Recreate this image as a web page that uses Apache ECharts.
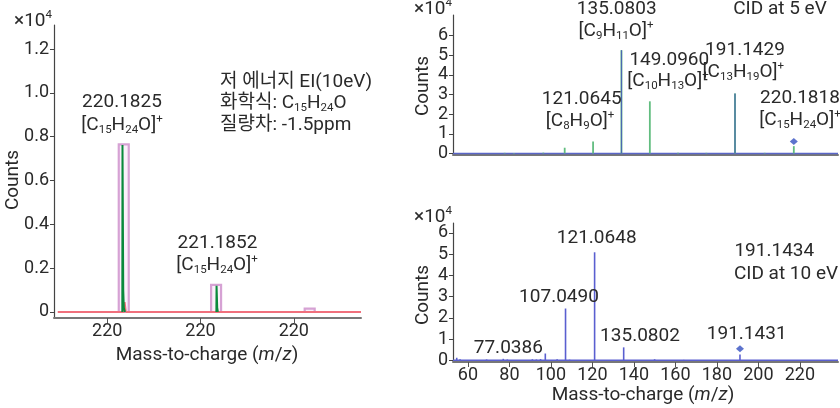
<!DOCTYPE html>
<html><head><meta charset="utf-8">
<script src="https://cdn.jsdelivr.net/npm/echarts@6/dist/echarts.min.js"></script>
<style>html,body{margin:0;padding:0;background:#fff}#c{width:840px;height:408px}</style>
</head><body><div id="c"></div>
<script>
// ---------------- data ----------------
// Left panel: low-energy EI (10 eV) isotope pattern
const leftTickValues = [220, 221, 222];
const leftTickLabels = ['220', '220', '220'];
const leftYTicks = [0, 0.2, 0.4, 0.6, 0.8, 1.0, 1.2];
const isoMz = [220.1775, 221.167, 222.170];
const isoCounts = [0.765, 0.124, 0.015];
const greenMz = [220.162, 220.164, 220.170, 220.172, 220.178, 220.190, null,
                 221.170, 221.172, 221.177, 221.179, 221.186];
const greenCounts = [0, 0.762, 0.762, 0.10, 0.02, 0, null,
                     0, 0.12, 0.12, 0.02, 0];
const redMz = [219.47, 220.180, 220.188, 220.194, 220.200, 222.72];
const redCounts = [0, 0, 0.045, 0.04, 0, 0];

// Top right: CID at 5 eV
const cid5Mz = [77.4, 82.0, 96.5, 107.05, 121.0645, 135.0803, 149.0960, 163.0, 177.0, 191.1429, 205.8, 220.1818];
const cid5Counts = [0.03, 0.02, 0.04, 0.29, 0.61, 5.25, 2.65, 0.03, 0.03, 3.05, 0.03, 0.37];
const cid5BlueMz = [135.0803, 191.1429];
const cid5BlueCounts = [5.25, 3.05];
const cid5PrecursorMz = [220.1818];
const cid5PrecursorMark = [0.61];

// Bottom right: CID at 10 eV
const cid10Mz = [54.6, 56.2, 69.0, 77.0386, 79.0, 91.05, 93.0, 95.0, 97.3, 103.0, 107.0490, 109.0,
                 121.0648, 135.0802, 150.0, 164.0, 191.1431];
const cid10Counts = [0.12, 0.05, 0.04, 0.07, 0.04, 0.05, 0.04, 0.06, 0.32, 0.05, 2.44, 0.03,
                     5.09, 0.61, 0.05, 0.02, 0.27];
const cid10PrecursorMz = [191.1431];
const cid10PrecursorMark = [0.55];

const rightYTicks = [0, 1, 2, 3, 4, 5, 6];
const bottomXTicks = [60, 80, 100, 120, 140, 160, 180, 200, 220];

// ---------------- chart ----------------
const FF = 'Roboto, "Noto Sans CJK KR", sans-serif';
const TXT = '#2a2a2a';
const L_X = [219.43, 222.72], L_Y = [-0.0275, 1.31];
const T_X = [51.9, 242.0], T_Y = [-0.08, 7.04];
const B_X = [52.8, 238.4], B_Y = [-0.08, 6.47];

const chart = echarts.init(document.getElementById('c'), null, {renderer: 'canvas'});

function stick(xi, data, counts, color, width, z) {
  return {
    type: 'custom', xAxisIndex: xi, yAxisIndex: xi, silent: true, z: z || 2,
    data: data.map((m, i) => [m, counts[i]]),
    renderItem: (p, api) => {
      const a = api.coord([api.value(0), 0]);
      const b = api.coord([api.value(0), api.value(1)]);
      return {type: 'line', shape: {x1: a[0], y1: a[1], x2: b[0], y2: b[1]},
              style: {stroke: color, lineWidth: width}};
    }
  };
}
function baseline(xi, range, color) {
  return {type: 'line', xAxisIndex: xi, yAxisIndex: xi, symbol: 'none', silent: true, z: 1,
          data: [[range[0], 0], [range[1], 0]], lineStyle: {color: color, width: 1.5}};
}

const rich = {
  n: {fontSize: 19, fontFamily: FF, fill: TXT, lineHeight: 24},
  s: {fontSize: 11.5, fontFamily: FF, fill: TXT, lineHeight: 24, padding: [10, 0, 0, 0]},
  p: {fontSize: 11.5, fontFamily: FF, fill: TXT, lineHeight: 24, padding: [0, 0, 11, 0]},
  i: {fontSize: 19, fontFamily: FF, fill: TXT, lineHeight: 24, fontStyle: 'italic'}
};
function formula(parts) { // parts like ['C','15','H','24','O']
  let s = '{n|[}';
  parts.forEach((t, k) => { s += (k % 2 === 0) ? '{n|' + t + '}' : '{s|' + t + '}'; });
  return s + '{n|]}{p|+}';
}
function T(x, y, text, align, rot) {
  return {type: 'text', x: x, y: y, rotation: rot || 0, silent: true, z: 50,
          style: {text: text, rich: rich, align: align || 'center', verticalAlign: 'middle',
                  fontSize: 19, fontFamily: FF, fill: TXT}};
}
const sup10 = '{n|×10}{p|4}';
const mzName = '{n|Mass-to-charge (}{i|m}{n|/}{i|z}{n|)}';

const graphics = [
  T(14, 21, sup10, 'left'),
  T(122, 102, '{n|220.1825}'), T(122, 125, formula(['C', '15', 'H', '24', 'O'])),
  T(220, 82, '{n|저 에너지 EI(10eV)}', 'left'),
  T(220, 103, '{n|화학식: C}{s|15}{n|H}{s|24}{n|O}', 'left'),
  T(220, 125, '{n|질량차: -1.5ppm}', 'left'),
  T(217.5, 243, '{n|221.1852}'), T(217, 265, formula(['C', '15', 'H', '24', 'O'])),
  T(13.5, 180, '{n|Counts}', 'center', Math.PI / 2),
  T(207, 355, mzName),
  // top right
  T(414, 9, sup10, 'left'),
  T(616.7, 9.5, '{n|135.0803}'), T(616, 31, formula(['C', '9', 'H', '11', 'O'])),
  T(780, 9.5, '{n|CID at 5 eV}'),
  T(669.3, 60, '{n|149.0960}'), T(668, 81, formula(['C', '10', 'H', '13', 'O'])),
  T(745, 50, '{n|191.1429}'), T(743.3, 72, formula(['C', '13', 'H', '19', 'O'])),
  T(581.7, 99, '{n|121.0645}'), T(580, 121, formula(['C', '8', 'H', '9', 'O'])),
  T(800, 98.3, '{n|220.1818}'), T(800, 120, formula(['C', '15', 'H', '24', 'O'])),
  T(423, 86, '{n|Counts}', 'center', Math.PI / 2),
  // bottom right
  T(414, 217, sup10, 'left'),
  T(596.7, 238.3, '{n|121.0648}'),
  T(559, 297.7, '{n|107.0490}'),
  T(640, 336.7, '{n|135.0802}'),
  T(746.7, 334, '{n|191.1431}'),
  T(508.3, 348.3, '{n|77.0386}'),
  T(774.3, 251.7, '{n|191.1434}'),
  T(786, 274, '{n|CID at 10 eV}'),
  T(423, 295, '{n|Counts}', 'center', Math.PI / 2),
  T(643, 395, mzName)
];

const axisLbl = {fontSize: 18, fontFamily: FF, color: TXT};
function yAxis(gi, range, ticks, fmt) {
  return {type: 'value', gridIndex: gi, min: range[0], max: range[1],
    splitLine: {show: false},
    axisLine: {show: true, lineStyle: {color: '#444', width: 1.2}},
    axisTick: {show: true, length: 4, customValues: ticks, lineStyle: {color: '#444'}},
    axisLabel: Object.assign({show: true, margin: 5, customValues: ticks, formatter: fmt}, axisLbl)};
}
function xAxis(gi, range, ticks, fmt, showLbl) {
  return {type: 'value', gridIndex: gi, min: range[0], max: range[1],
    splitLine: {show: false},
    axisLine: {show: true, onZero: false, lineStyle: {color: '#777', width: 2}},
    axisTick: {show: showLbl, length: 5, customValues: ticks, lineStyle: {color: '#555'}},
    axisLabel: Object.assign({show: showLbl, margin: 5, customValues: ticks, formatter: fmt}, axisLbl)};
}

const option = {
  animation: false,
  backgroundColor: '#fff',
  grid: [
    {left: 54, top: 25, width: 307, height: 293},
    {left: 453, top: 15, right: 2, height: 140},
    {left: 453, top: 223, right: 2, height: 139}
  ],
  xAxis: [
    xAxis(0, L_X, leftTickValues, (v, i) => leftTickLabels[leftTickValues.indexOf(v)] ?? leftTickLabels[i], true),
    xAxis(1, T_X, [], v => '', false),
    xAxis(2, B_X, bottomXTicks, v => String(v), true)
  ],
  yAxis: [
    yAxis(0, L_Y, leftYTicks, v => v === 0 ? '0' : v.toFixed(1)),
    yAxis(1, T_Y, rightYTicks, v => String(v)),
    yAxis(2, B_Y, rightYTicks, v => String(v))
  ],
  graphic: graphics,
  series: [
    // left panel
    {type: 'custom', xAxisIndex: 0, yAxisIndex: 0, silent: true, z: 2,
     data: isoMz.map((m, i) => [m, isoCounts[i]]),
     renderItem: (p, api) => {
       const w = 0.0535;
       const a = api.coord([api.value(0) - w, api.value(1)]);
       const b = api.coord([api.value(0) + w, 0]);
       return {type: 'rect', shape: {x: a[0], y: a[1], width: b[0] - a[0], height: b[1] - a[1]},
               style: {stroke: '#d6a2d4', lineWidth: 2.2, fill: 'rgba(240,215,240,0.35)'}};
     }},
    {type: 'line', xAxisIndex: 0, yAxisIndex: 0, symbol: 'none', silent: true, z: 4, connectNulls: false,
     data: greenMz.map((m, i) => m === null ? [null, null] : [m, greenCounts[i]]),
     lineStyle: {color: '#0a8a3c', width: 2}},
    {type: 'line', xAxisIndex: 0, yAxisIndex: 0, symbol: 'none', silent: true, z: 3,
     data: redMz.map((m, i) => [m, redCounts[i]]),
     lineStyle: {color: '#f0707c', width: 1.8}},
    // top right
    baseline(1, T_X, '#5a66c8'),
    stick(1, cid5Mz, cid5Counts, '#62bd80', 1.8, 2),
    stick(1, cid5BlueMz, cid5BlueCounts, '#4a68b0', 1.2, 3),
    {type: 'scatter', xAxisIndex: 1, yAxisIndex: 1, silent: true, z: 5, symbol: 'diamond', symbolSize: [8, 7],
     data: cid5PrecursorMz.map((m, i) => [m, cid5PrecursorMark[i]]), itemStyle: {color: '#3450c0'}},
    // bottom right
    baseline(2, B_X, '#5a5fd0'),
    stick(2, cid10Mz, cid10Counts, '#5a5fd0', 1.6, 2),
    {type: 'scatter', xAxisIndex: 2, yAxisIndex: 2, silent: true, z: 5, symbol: 'diamond', symbolSize: [8, 7],
     data: cid10PrecursorMz.map((m, i) => [m, cid10PrecursorMark[i]]), itemStyle: {color: '#3450c0'}}
  ]
};
chart.setOption(option);
</script></body></html>
